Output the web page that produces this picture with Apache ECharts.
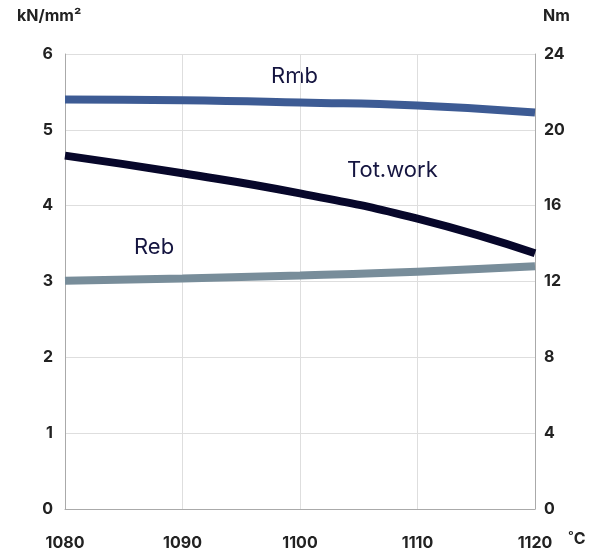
<!DOCTYPE html>
<html><head><meta charset="utf-8">
<script src="https://cdn.jsdelivr.net/npm/echarts@6/dist/echarts.min.js"></script>
<style>html,body{margin:0;padding:0;background:#fff}#c{width:597px;height:557px}</style>
</head><body><div id="c"></div>
<script>
const temps = [1080, 1090, 1100, 1110, 1120];
const rmb = [5.40, 5.39, 5.36, 5.32, 5.23];
const reb = [3.01, 3.04, 3.08, 3.13, 3.20];
const totWork = [18.64, 17.71, 16.65, 15.31, 13.49];
const xTicks = [1080, 1120, 10];
const leftTicks = [0, 6, 1];
const rightTicks = [0, 24, 4];

const FONT = 'Inter, "Noto Sans", sans-serif';
const chart = echarts.init(document.getElementById('c'));
const pair = (xs, ys) => xs.map((x, i) => [x, ys[i]]);
const lineStyleBase = { width: 8, cap: 'butt' };
chart.setOption({
  animation: false,
  grid: { left: 65, right: 62, top: 54, bottom: 48 },
  xAxis: {
    type: 'value', min: xTicks[0], max: xTicks[1], interval: xTicks[2],
    axisLine: { show: true, lineStyle: { color: '#aaaaaa', width: 1 } },
    axisTick: { show: false },
    splitLine: { show: true, lineStyle: { color: '#dedede', width: 1 } },
    axisLabel: { margin: 26, color: '#222', fontSize: 16, fontWeight: 'bold', fontFamily: FONT,
      formatter: v => String(v) }
  },
  yAxis: [
    { type: 'value', min: leftTicks[0], max: leftTicks[1], interval: leftTicks[2], position: 'left',
      axisLine: { show: true, lineStyle: { color: '#aaaaaa', width: 1 } },
      axisTick: { show: false },
      splitLine: { show: true, lineStyle: { color: '#dedede', width: 1 } },
      axisLabel: { margin: 12, color: '#222', fontSize: 16, fontWeight: 'bold', fontFamily: FONT } },
    { type: 'value', min: rightTicks[0], max: rightTicks[1], interval: rightTicks[2], position: 'right',
      axisLine: { show: true, lineStyle: { color: '#aaaaaa', width: 1 } },
      axisTick: { show: false },
      splitLine: { show: false },
      axisLabel: { margin: 9, color: '#222', fontSize: 16, fontWeight: 'bold', fontFamily: FONT } }
  ],
  series: [
    { name: 'Rmb', type: 'line', yAxisIndex: 0, smooth: true, symbol: 'none',
      data: pair(temps, rmb), lineStyle: Object.assign({ color: '#3d5b94' }, lineStyleBase) },
    { name: 'Reb', type: 'line', yAxisIndex: 0, smooth: true, symbol: 'none',
      data: pair(temps, reb), lineStyle: Object.assign({ color: '#788d9a' }, lineStyleBase) },
    { name: 'Tot.work', type: 'line', yAxisIndex: 1, smooth: true, symbol: 'none',
      data: pair(temps, totWork), lineStyle: Object.assign({ color: '#07072a' }, lineStyleBase) }
  ],
  graphic: [
    { type: 'text', left: 17, top: 8, style: { text: 'kN/mm²', fill: '#222', font: 'bold 16px ' + FONT } },
    { type: 'text', left: 543, top: 8, style: { text: 'Nm', fill: '#222', font: 'bold 16px ' + FONT } },
    { type: 'text', left: 568, top: 531, style: { text: '˚C', fill: '#222', font: 'bold 16px ' + FONT } },
    { type: 'text', left: 271, top: 65, style: { text: 'Rmb', fill: '#151540', font: '22px ' + FONT } },
    { type: 'text', left: 347, top: 159, style: { text: 'Tot.work', fill: '#151540', font: '22px ' + FONT } },
    { type: 'text', left: 134, top: 236, style: { text: 'Reb', fill: '#151540', font: '22px ' + FONT } }
  ]
});
</script></body></html>
